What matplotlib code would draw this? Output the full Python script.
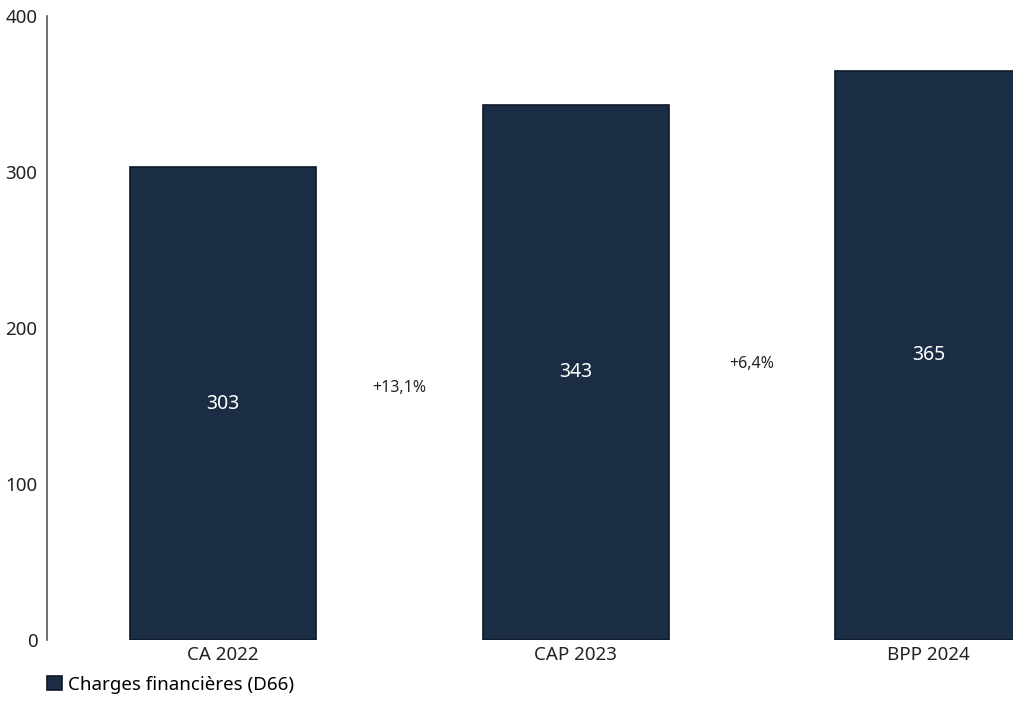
import numpy as np
import matplotlib.pyplot as plt

categories = ["CA 2022", "CAP 2023", "BPP 2024"]
values = [303, 343, 365]
growth_labels = ["+13,1%", "+6,4%"]
series_name = "Charges financières (D66)"

plt.rcParams['font.family'] = ['Noto Sans', 'DejaVu Sans']

fig = plt.figure(figsize=(10.13, 7.02), dpi=100)
ax = fig.add_axes([0.0464, 0.0883, 0.9536, 0.889])

x = np.arange(len(categories))
bars = ax.bar(x, values, width=0.527, color="#1b2d44", edgecolor="#0e1826",
              linewidth=1.2, label=series_name)

for xi, v in zip(x, values):
    ax.text(xi, v / 2, str(v), ha="center", va="center", color="white", fontsize=14)

for i, lab in enumerate(growth_labels):
    ymid = (values[i] / 2 + values[i + 1] / 2) / 2
    ax.text(x[i] + 0.5, ymid, lab, ha="center", va="center", color="#222222", fontsize=11.5)

ax.set_xlim(-0.5, 2.24)
ax.set_ylim(0, 400)
ax.set_yticks([0, 100, 200, 300, 400])
ax.set_xticks(x)
ax.set_xticklabels(categories)
ax.tick_params(axis="both", length=0, labelsize=13.5, colors="#222222")
ax.tick_params(axis="x", pad=4)
ax.tick_params(axis="y", pad=7)

for s in ["top", "right", "bottom"]:
    ax.spines[s].set_visible(False)
ax.spines["left"].set_color("#555555")
ax.spines["left"].set_linewidth(1.2)

fig.legend(handles=[bars], labels=[series_name], loc="lower left",
           bbox_to_anchor=(0.030, -0.012), frameon=False, fontsize=13.5,
           handlelength=0.8, handleheight=0.8, handletextpad=0.3)

fig.savefig("out.png", dpi=100)
